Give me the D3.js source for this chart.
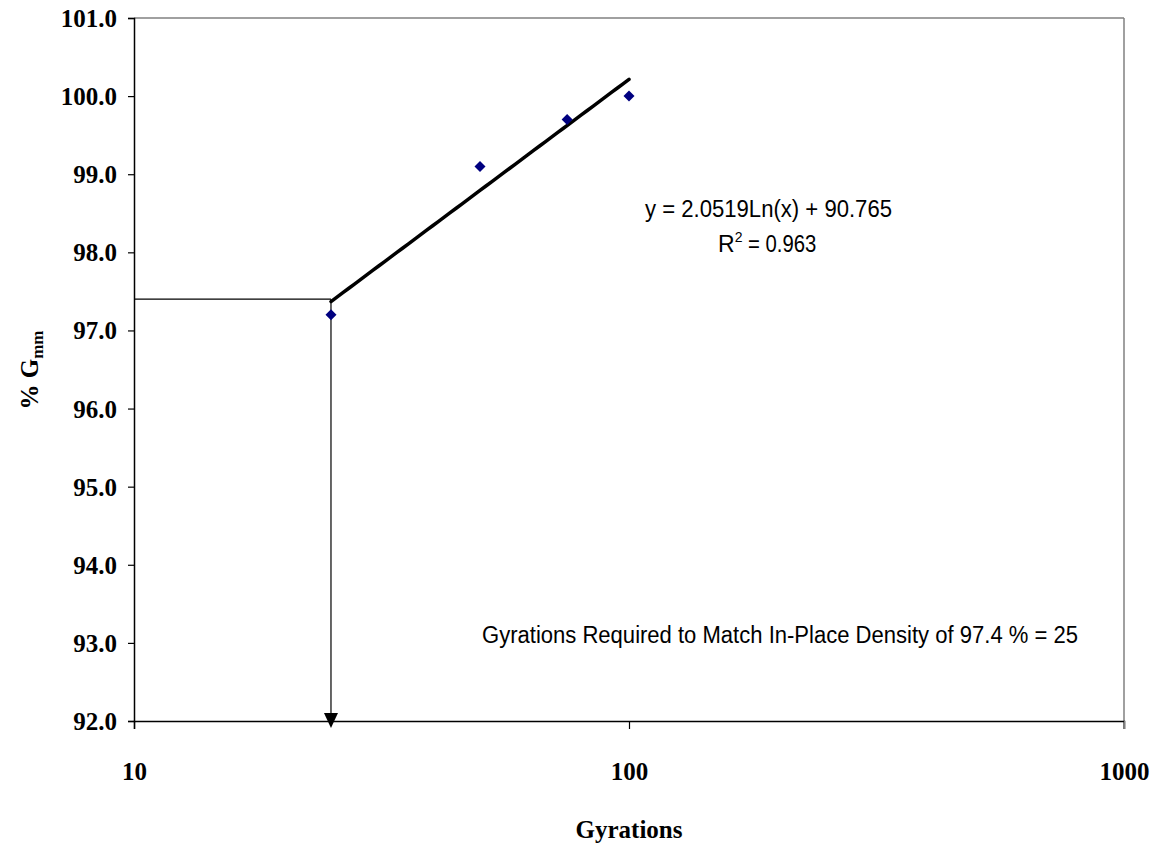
<!DOCTYPE html>
<html><head><meta charset="utf-8">
<script src="https://cdn.jsdelivr.net/npm/d3@7"></script>
<style>body{margin:0;background:#fff}svg{display:block}</style>
</head><body>
<script>
const gyrations = [25, 50, 75, 100];
const gmm = [97.2, 99.1, 99.7, 100.0];
const yTicks = [92, 93, 94, 95, 96, 97, 98, 99, 100, 101];
const xTicks = [10, 100, 1000];
const fitA = 2.0519, fitB = 90.765, r2 = 0.963;
const fitRange = [25, 100];
const targetDensity = 97.4, targetGyr = 25;

const W = 1159, H = 857;
const L = 134, R = 1124, T = 18, B = 721;
const svg = d3.select("body").append("svg").attr("width", W).attr("height", H);
const x = d3.scaleLog().domain([10, 1000]).range([L, R]);
const y = d3.scaleLinear().domain([92, 101]).range([B, T]);

// frame top/right gray
svg.append("line").attr("x1", L).attr("x2", R).attr("y1", T).attr("y2", T).attr("stroke", "#808080").attr("stroke-width", 1.5);
svg.append("line").attr("x1", R).attr("x2", R).attr("y1", T).attr("y2", B + 8).attr("stroke", "#808080").attr("stroke-width", 1.5);

// y axis
const ya = svg.append("g").attr("transform", `translate(${L},0)`)
  .call(d3.axisLeft(y).tickValues(yTicks).tickFormat(d3.format(".1f")).tickSize(6).tickPadding(11));
ya.select(".domain").attr("stroke", "#000").attr("stroke-width", 1.5);
ya.selectAll(".tick line").attr("stroke", "#000").attr("stroke-width", 1.2);
ya.selectAll("text").attr("font-family", "Liberation Serif").attr("font-weight", "bold").attr("font-size", 25).attr("fill", "#000").attr("dy", "0.34em");

// x axis
const xa = svg.append("g").attr("transform", `translate(0,${B})`)
  .call(d3.axisBottom(x).tickValues(xTicks).tickFormat(d3.format("d")).tickSize(8).tickPadding(40));
xa.select(".domain").attr("stroke", "#000").attr("stroke-width", 1.5);
xa.selectAll(".tick line").attr("stroke", "#000").attr("stroke-width", 1.2);
xa.selectAll(".tick").filter(d => d === 1000).select("line").attr("stroke", "#808080");
xa.selectAll("text").attr("font-family", "Liberation Serif").attr("font-weight", "bold").attr("font-size", 25).attr("fill", "#000")
  .attr("y", 59).attr("dy", 0);

// target lines
svg.append("line").attr("x1", x(10)).attr("x2", x(targetGyr)).attr("y1", y(targetDensity)).attr("y2", y(targetDensity))
  .attr("stroke", "#000").attr("stroke-width", 1.2);
svg.append("line").attr("x1", x(targetGyr)).attr("x2", x(targetGyr)).attr("y1", y(targetDensity)).attr("y2", B)
  .attr("stroke", "#000").attr("stroke-width", 1.2);
const ax = x(targetGyr);
svg.append("path").attr("d", `M${ax - 7},${B - 8}L${ax + 7},${B - 8}L${ax},${B + 7}Z`).attr("fill", "#000");

// trendline
const fx = d3.range(0, 51).map(i => fitRange[0] * Math.pow(fitRange[1] / fitRange[0], i / 50));
svg.append("path").datum(fx)
  .attr("d", d3.line().x(d => x(d)).y(d => y(fitA * Math.log(d) + fitB)))
  .attr("fill", "none").attr("stroke", "#000").attr("stroke-width", 3.5).attr("stroke-linecap", "round");

// points
svg.selectAll(".pt").data(gyrations).enter().append("path")
  .attr("transform", (d, i) => `translate(${x(d)},${y(gmm[i])})`)
  .attr("d", "M0,-5.5L5.5,0L0,5.5L-5.5,0Z").attr("fill", "#000080");

// equation
svg.append("text").attr("x", 645).attr("y", 217)
  .attr("font-family", "Liberation Sans").attr("font-size", 23)
  .attr("textLength", 247).attr("lengthAdjust", "spacingAndGlyphs")
  .text(`y = ${fitA}Ln(x) + ${fitB}`);
const rt = svg.append("text").attr("x", 718).attr("y", 252)
  .attr("font-family", "Liberation Sans").attr("font-size", 23);
rt.append("tspan").text("R");
rt.append("tspan").attr("dy", -10).attr("font-size", 14).text("2");
rt.append("tspan").attr("dy", 10).attr("textLength", 74).attr("lengthAdjust", "spacingAndGlyphs").text(` = ${r2}`);

svg.append("text").attr("x", 482).attr("y", 643)
  .attr("font-family", "Liberation Sans").attr("font-size", 23)
  .attr("textLength", 596).attr("lengthAdjust", "spacingAndGlyphs")
  .text(`Gyrations Required to Match In-Place Density of ${targetDensity} % = ${targetGyr}`);

// axis titles
svg.append("text").attr("x", 629).attr("y", 838).attr("text-anchor", "middle")
  .attr("font-family", "Liberation Serif").attr("font-weight", "bold").attr("font-size", 25).text("Gyrations");
const yt = svg.append("text").attr("transform", "translate(38,370) rotate(-90)").attr("text-anchor", "middle")
  .attr("font-family", "Liberation Serif").attr("font-weight", "bold").attr("font-size", 25);
yt.append("tspan").text("% G");
yt.append("tspan").attr("font-size", 17).attr("dy", 5).text("mm");
</script>
</body></html>
